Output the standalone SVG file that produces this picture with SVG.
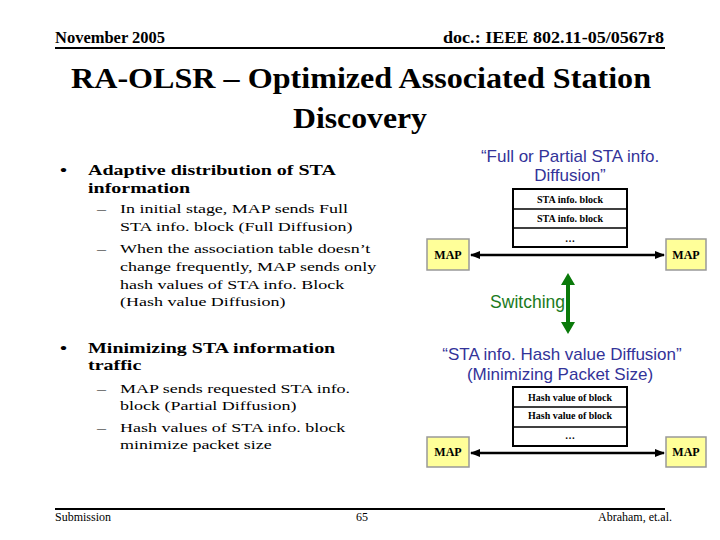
<svg xmlns="http://www.w3.org/2000/svg" width="720" height="540" viewBox="0 0 720 540">
<defs>
<marker id="ah" viewBox="0 0 10 10" refX="9" refY="5" markerWidth="4" markerHeight="4" orient="auto-start-reverse" markerUnits="strokeWidth">
<path d="M0,1 L10,5 L0,9 z" fill="#000"/>
</marker>
</defs>
<style>
.ser{font-family:"Liberation Serif","Times New Roman",serif;fill:#000}
.hdr{font-size:16px;font-weight:bold}
.ttl{font-size:30px;font-weight:bold;text-anchor:middle}
.b1{font-size:20px;font-weight:bold}
.b2{font-size:18px}
.ftr{font-size:12px}
.blue{font-family:"Liberation Sans",Arial,sans-serif;font-size:17px;fill:#333399;text-anchor:middle}
.grn{font-family:"Liberation Sans",Arial,sans-serif;font-size:17.5px;fill:#1b7a1b;text-anchor:end}
.blk{fill:#fff;stroke:#000;stroke-width:2}
.cell{font-family:"Liberation Serif","Times New Roman",serif;font-size:10px;font-weight:bold;text-anchor:middle}
.map{fill:#ffff99;stroke:#999;stroke-width:1.5}
.mapt{font-family:"Liberation Serif","Times New Roman",serif;font-size:12px;font-weight:bold;text-anchor:middle}
.conn{stroke:#000;stroke-width:2.5;fill:none;marker-start:url(#ah);marker-end:url(#ah)}
</style>
<rect width="720" height="540" fill="#fff"/>
<g id="header">
<text class="ser hdr" x="55" y="43" textLength="110" lengthAdjust="spacingAndGlyphs">November 2005</text>
<text class="ser hdr" x="443" y="43" textLength="221" lengthAdjust="spacingAndGlyphs">doc.: IEEE 802.11-05/0567r8</text>
<line x1="55" y1="48" x2="665" y2="48" stroke="#000" stroke-width="2"/>
</g>
<g id="title">
<text class="ser ttl" x="361" y="88" textLength="580" lengthAdjust="spacingAndGlyphs">RA-OLSR – Optimized Associated Station</text>
<text class="ser ttl" x="360" y="128" textLength="134" lengthAdjust="spacingAndGlyphs">Discovery</text>
</g>
<g id="bullets">
<text class="ser b1" transform="translate(60,175) scale(1,0.78)">•</text>
<text class="ser b1" transform="translate(88,175) scale(1,0.78)">Adaptive distribution of STA</text>
<text class="ser b1" transform="translate(88,193) scale(1,0.78)">information</text>
<text class="ser b2" transform="translate(97,213) scale(1,0.75)">–</text>
<text class="ser b2" transform="translate(120,213) scale(1,0.75)">In initial stage, MAP sends Full</text>
<text class="ser b2" transform="translate(120,231) scale(1,0.75)">STA info. block (Full Diffusion)</text>
<text class="ser b2" transform="translate(97,253) scale(1,0.75)">–</text>
<text class="ser b2" transform="translate(120,253) scale(1,0.75)">When the association table doesn’t</text>
<text class="ser b2" transform="translate(120,271) scale(1,0.75)">change frequently, MAP sends only</text>
<text class="ser b2" transform="translate(120,289) scale(1,0.75)">hash values of STA info. Block</text>
<text class="ser b2" transform="translate(120,306) scale(1,0.75)">(Hash value Diffusion)</text>
<text class="ser b1" transform="translate(60,353) scale(1,0.78)">•</text>
<text class="ser b1" transform="translate(88,353) scale(1,0.78)">Minimizing STA information</text>
<text class="ser b1" transform="translate(88,370) scale(1,0.78)">traffic</text>
<text class="ser b2" transform="translate(97,393) scale(1,0.75)">–</text>
<text class="ser b2" transform="translate(120,393) scale(1,0.75)">MAP sends requested STA info.</text>
<text class="ser b2" transform="translate(120,410) scale(1,0.75)">block (Partial Diffusion)</text>
<text class="ser b2" transform="translate(97,432) scale(1,0.75)">–</text>
<text class="ser b2" transform="translate(120,432) scale(1,0.75)">Hash values of STA info. block</text>
<text class="ser b2" transform="translate(120,449) scale(1,0.75)">minimize packet size</text>
</g>
<g id="label-full">
<text class="blue" x="570" y="162">“Full or Partial STA info.</text>
<text class="blue" x="570" y="181">Diffusion”</text>
</g>
<g id="block-full">
<rect class="blk" x="513" y="189" width="114" height="58"/>
<line x1="513" y1="209" x2="627" y2="209" stroke="#000" stroke-width="1.5"/>
<line x1="513" y1="228" x2="627" y2="228" stroke="#000" stroke-width="1.5"/>
<text class="cell" x="570" y="203" textLength="66" lengthAdjust="spacingAndGlyphs">STA info. block</text>
<text class="cell" x="570" y="222" textLength="66" lengthAdjust="spacingAndGlyphs">STA info. block</text>
<text class="cell" x="570" y="242">…</text>
</g>
<g id="map1">
<rect class="map" x="427" y="239" width="42" height="31"/>
<text class="mapt" x="448" y="259">MAP</text>
</g>
<g id="map2">
<rect class="map" x="666" y="239" width="40" height="31"/>
<text class="mapt" x="686" y="259">MAP</text>
</g>
<g id="switching">
<text class="grn" x="565" y="308">Switching</text>
</g>
<g id="label-hash">
<text class="blue" x="562" y="360">“STA info. Hash value Diffusion”</text>
<text class="blue" x="560" y="380">(Minimizing Packet Size)</text>
</g>
<g id="block-hash">
<rect class="blk" x="513" y="387" width="114" height="59"/>
<line x1="513" y1="407" x2="627" y2="407" stroke="#000" stroke-width="1.5"/>
<line x1="513" y1="427" x2="627" y2="427" stroke="#000" stroke-width="1.5"/>
<text class="cell" x="570" y="401" textLength="84" lengthAdjust="spacingAndGlyphs">Hash value of block</text>
<text class="cell" x="570" y="419" textLength="84" lengthAdjust="spacingAndGlyphs">Hash value of block</text>
<text class="cell" x="570" y="439">…</text>
</g>
<g id="map3">
<rect class="map" x="427" y="437" width="42" height="30"/>
<text class="mapt" x="448" y="456">MAP</text>
</g>
<g id="map4">
<rect class="map" x="666" y="437" width="40" height="30"/>
<text class="mapt" x="686" y="456">MAP</text>
</g>
<g id="connectors">
<line class="conn" x1="471" y1="255" x2="664" y2="255"/>
<line class="conn" x1="471" y1="453" x2="664" y2="453"/>
<path d="M568,273 L575,285 L570,285 L570,322 L575,322 L568,334 L561,322 L566,322 L566,285 L561,285 z" fill="#0a7a0a"/>
</g>
<g id="footer">
<line x1="55" y1="509" x2="665" y2="509" stroke="#000" stroke-width="2"/>
<text class="ser ftr" x="55" y="521">Submission</text>
<text class="ser ftr" x="362" y="521" text-anchor="middle">65</text>
<text class="ser ftr" x="672" y="521" text-anchor="end">Abraham, et.al.</text>
</g>
</svg>
